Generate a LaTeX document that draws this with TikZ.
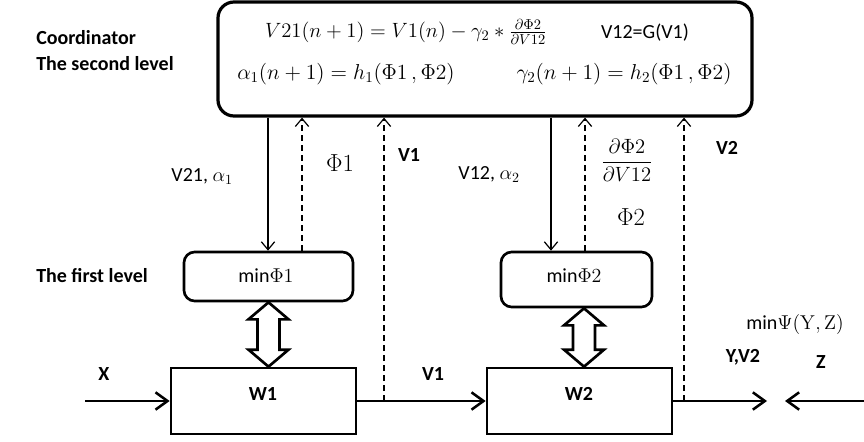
\RequirePackage{fix-cm}
\documentclass[tikz,border=0pt]{standalone}
\usepackage{amsmath}
\usepackage[no-math]{fontspec}
\setmainfont{Carlito}
\usetikzlibrary{arrows.meta,calc}

\begin{document}
\begin{tikzpicture}[x=0.75pt,y=-0.75pt,
  lbl/.style={font=\fontsize{15}{18}\selectfont\bfseries, inner sep=0pt},
  txt/.style={font=\fontsize{15}{18}\selectfont, inner sep=0pt},
  eqn/.style={font=\fontsize{15.5}{19}\selectfont, inner sep=0pt},
  eqnb/.style={font=\fontsize{16.2}{19}\selectfont, inner sep=0pt},
  big/.style={font=\fontsize{18.5}{22}\selectfont, inner sep=0pt},
  thinline/.style={line width=0.9pt},
  sarrow/.style={thinline, -{Straight Barb[length=6pt,width=10pt]}},
  darrow/.style={sarrow, dash pattern=on 4.5pt off 3pt},
  flow/.style={line width=1.9pt, -{Straight Barb[length=9pt,width=13pt,line width=1.9pt]}},
  rbox/.style={draw, line width=2pt, rounded corners=8pt, inner sep=0pt},
  wbox/.style={draw, line width=2pt, inner sep=0pt},
  dbl/.style={draw, line width=2pt, fill=white, line join=miter},
]
\useasboundingbox (0,0) rectangle (864,442);

% upper level: the coordinator
\node[draw, line width=2.4pt, rounded corners=12pt, minimum width=400.5pt,
      minimum height=85.5pt] (coord) at (485,59) {};
\node[eqn] (eq1) at (406,32) {$V21(n+1)=V1(n)-\gamma_2*\frac{\partial\Phi2}{\partial V12}$};
\node[txt] (eq2) at (645,33) {V12=G(V1)};
\node[eqnb] (eq3) at (346,74) {$\alpha_1(n+1)=h_1(\Phi1\,,\Phi2)$};
\node[eqnb] (eq4) at (624,74) {$\gamma_2(n+1)=h_2(\Phi1\,,\Phi2)$};

\node[lbl, anchor=west] (c1) at (36,38) {Coordinator};
\node[lbl, anchor=west] (c2) at (36,64) {The second level};
\node[lbl, anchor=west] (c3) at (36,276) {The first level};

% lower level: local problems and subsystems
\node[rbox, minimum width=126.75pt, minimum height=36.75pt] (min1) at (268.5,276.5) {};
\node[txt] (tmin1) at (266,276) {min$\Phi1$};
\node[rbox, minimum width=113.25pt, minimum height=41.25pt] (min2) at (576.5,279.5) {};
\node[txt] (tmin2) at (574,276) {min$\Phi2$};

\node[wbox, minimum width=138.75pt, minimum height=49.5pt] (w1) at (263.5,401) {};
\node[lbl] (tw1) at (263,394) {W1};
\node[wbox, minimum width=138.75pt, minimum height=49.5pt] (w2) at (579.5,401) {};
\node[lbl] (tw2) at (579,394) {W2};

% coordination signals
\coordinate (a1) at (268,0);
\coordinate (a2) at (302,0);
\coordinate (v1f) at (384,0);
\coordinate (a3) at (551,0);
\coordinate (a4) at (585,0);
\coordinate (v2f) at (684,0);
\draw[sarrow] (a1 |- coord.south) -- (a1 |- min1.north);
\draw[darrow] (a2 |- min1.north) -- (a2 |- coord.south);
\draw[darrow] (v1f |- w1.east) -- (v1f |- coord.south);
\draw[sarrow] (a3 |- coord.south) -- (a3 |- min2.north);
\draw[darrow] (a4 |- min2.north) -- (a4 |- coord.south);
\draw[darrow] (v2f |- w2.east) -- (v2f |- coord.south);

\node[txt, anchor=east] (l1) at (233,177) {V21, $\alpha_1$};
\node[big] (l2) at (340,163) {$\Phi1$};
\node[lbl] (l3) at (409,155) {V1};
\node[txt, anchor=east] (l4) at (520,175) {V12, $\alpha_2$};
\node[eqn] (l5) at (627,160) {$\dfrac{\partial\Phi2}{\partial V12}$};
\node[big] (l6) at (631,217) {$\Phi2$};
\node[lbl] (l7) at (727,148) {V2};

% two-way links between local problems and subsystems
\draw[dbl] let \p1=(min1.south), \p2=(w1.north) in
  (\x1,\y1) -- (\x1+15pt,\y1-12.75pt) -- (\x1+8.25pt,\y1-12.75pt)
  -- (\x1+8.25pt,\y2+12.75pt) -- (\x1+15pt,\y2+12.75pt) -- (\x1,\y2)
  -- (\x1-15pt,\y2+12.75pt) -- (\x1-8.25pt,\y2+12.75pt)
  -- (\x1-8.25pt,\y1-12.75pt) -- (\x1-15pt,\y1-12.75pt) -- cycle;
\draw[dbl] let \p1=($(min2.south)+(7.5,0)$), \p2=(w2.north) in
  (\x1,\y1) -- (\x1+15pt,\y1-12.75pt) -- (\x1+8.25pt,\y1-12.75pt)
  -- (\x1+8.25pt,\y2+12.75pt) -- (\x1+15pt,\y2+12.75pt) -- (\x1,\y2)
  -- (\x1-15pt,\y2+12.75pt) -- (\x1-8.25pt,\y2+12.75pt)
  -- (\x1-8.25pt,\y1-12.75pt) -- (\x1-15pt,\y1-12.75pt) -- cycle;

% main flow
\coordinate (xin) at (85,401);
\coordinate (yout) at (767,401);
\coordinate (zin) at (864,401);
\coordinate (ztip) at (785,401);
\draw[flow] (xin) -- (w1.west);
\draw[flow] (w1.east) -- (w2.west);
\draw[flow] (w2.east) -- (yout);
\draw[flow] (zin) -- (ztip);

\node[lbl] (tx) at (104,374) {X};
\node[lbl] (tv1) at (433,374) {V1};
\node[txt] (tpsi) at (795,324) {min$\Psi(\mathrm{Y},\mathrm{Z})$};
\node[lbl] (ty) at (743,357) {Y,V2};
\node[lbl] (tz) at (821,362) {Z};
\end{tikzpicture}
\end{document}
